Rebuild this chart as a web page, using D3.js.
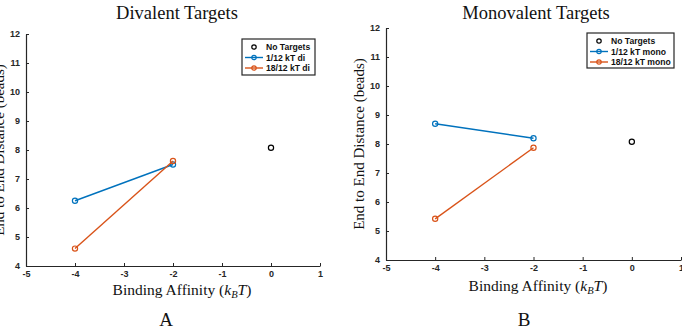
<!DOCTYPE html>
<html>
<head>
<meta charset="utf-8">
<script src="https://cdn.jsdelivr.net/npm/d3@7"></script>
<style>
  body { margin: 0; background: #fff; }
  svg { display: block; }
  .tick text { font-family: "Liberation Sans", Arial, sans-serif; font-weight: bold; font-size: 9px; fill: #262626; }
  .ttl { font-family: "Liberation Serif", "DejaVu Serif", serif; fill: #111; }
  .lg { font-family: "Liberation Sans", Arial, sans-serif; font-weight: bold; font-size: 8.6px; fill: #111; }
</style>
</head>
<body>
<svg width="682" height="336"></svg>
<script>
var svg = d3.select("svg");

// data
var xTicks = [-5, -4, -3, -2, -1, 0, 1];
var yTicks = [4, 5, 6, 7, 8, 9, 10, 11, 12];
var affinity = [-4, -2];
var noTargetX = [0];
var noTargetY = [8.08];
var diBlue = [6.25, 7.5];
var diOrange = [4.6, 7.62];
var monoBlue = [8.7, 8.2];
var monoOrange = [5.42, 7.87];

var blue = "#0072BD";
var orange = "#D95319";

var panels = [
  {x0: 26, x1: 320, y0: 34, y1: 266, title: "Divalent Targets", tx: 177, ty: 19,
   letter: "A", lx: 166, names: ["No Targets", "1/12 kT di", "18/12 kT di"],
   blueV: diBlue, orangeV: diOrange, leg: {x: 242, y: 39, w: 73, h: 36}, ylx: 4, xla: 182, xly: 295},
  {x0: 386, x1: 681, y0: 28, y1: 260, title: "Monovalent Targets", tx: 536, ty: 19,
   letter: "B", lx: 524, names: ["No Targets", "1/12 kT mono", "18/12 kT mono"],
   blueV: monoBlue, orangeV: monoOrange, leg: {x: 587, y: 33, w: 87, h: 35}, ylx: 364, xla: 538, xly: 291}
];

var drawPanel = function(p){
  var g = svg.append("g");
  var x = d3.scaleLinear().domain([-5, 1]).range([p.x0, p.x1]);
  var y = d3.scaleLinear().domain([4, 12]).range([p.y1, p.y0]);
  var fmt = function(d){return String(d)};

  var xa = g.append("g").attr("transform", "translate(0," + p.y1 + ")")
    .call(d3.axisBottom(x).tickValues(xTicks).tickFormat(fmt).tickSizeInner(-3).tickSizeOuter(0).tickPadding(5));
  var ya = g.append("g").attr("transform", "translate(" + p.x0 + ",0)")
    .call(d3.axisLeft(y).tickValues(yTicks).tickFormat(fmt).tickSizeInner(-3).tickSizeOuter(0).tickPadding(6));
  [xa, ya].forEach(function(a){
    a.select(".domain").attr("stroke", "#262626").attr("stroke-width", 1.2);
    a.selectAll(".tick line").attr("stroke", "#262626");
  });

  var line = d3.line().x(function(d){return x(d[0])}).y(function(d){return y(d[1])});
  [[p.blueV, blue], [p.orangeV, orange]].forEach(function(s){
    var pts = affinity.map(function(a, i){return [a, s[0][i]]});
    g.append("path").datum(pts).attr("d", line).attr("fill", "none")
      .attr("stroke", s[1]).attr("stroke-width", 1.4);
    g.selectAll(null).data(pts).enter().append("circle")
      .attr("cx", function(d){return x(d[0])}).attr("cy", function(d){return y(d[1])})
      .attr("r", 2.6).attr("fill", "none").attr("stroke", s[1]).attr("stroke-width", 1.2);
  });
  g.selectAll(null).data(noTargetX).enter().append("circle")
    .attr("cx", function(d){return x(d)}).attr("cy", function(d, i){return y(noTargetY[i])})
    .attr("r", 2.6).attr("fill", "none").attr("stroke", "#000").attr("stroke-width", 1.2);

  // legend
  var L = p.leg;
  var lg = g.append("g");
  lg.append("rect").attr("x", L.x).attr("y", L.y).attr("width", L.w).attr("height", L.h)
    .attr("fill", "#fff").attr("stroke", "#262626").attr("stroke-width", 1.2);
  var cols = ["#000", blue, orange];
  p.names.forEach(function(n, i){
    var yy = L.y + 8 + i * 10.5;
    if (i > 0) {
      lg.append("line").attr("x1", L.x + 3).attr("x2", L.x + 21).attr("y1", yy).attr("y2", yy)
        .attr("stroke", cols[i]).attr("stroke-width", 1.4);
    }
    lg.append("circle").attr("cx", L.x + 12).attr("cy", yy).attr("r", 2.2)
      .attr("fill", "none").attr("stroke", cols[i]).attr("stroke-width", 1.2);
    lg.append("text").attr("class", "lg").attr("x", L.x + 24).attr("y", yy + 3.2).text(n);
  });

  // texts
  g.append("text").attr("class", "ttl").attr("x", p.tx).attr("y", p.ty)
    .attr("text-anchor", "middle").attr("font-size", 18.5).text(p.title);
  var xl = g.append("text").attr("class", "ttl").attr("x", p.xla).attr("y", p.xly)
    .attr("text-anchor", "middle").attr("font-size", 15.5);
  xl.append("tspan").text("Binding Affinity (");
  xl.append("tspan").attr("font-style", "italic").text("k");
  xl.append("tspan").attr("font-style", "italic").attr("font-size", 10.5).attr("dy", 3).text("B");
  xl.append("tspan").attr("font-style", "italic").attr("dy", -3).text("T");
  xl.append("tspan").text(")");
  g.append("text").attr("class", "ttl")
    .attr("transform", "translate(" + p.ylx + "," + ((p.y0 + p.y1) / 2) + ") rotate(-90)")
    .attr("text-anchor", "middle").attr("font-size", 15).text("End to End Distance (beads)");
  g.append("text").attr("class", "ttl").attr("x", p.lx).attr("y", 326)
    .attr("text-anchor", "middle").attr("font-size", 19).text(p.letter);
};

panels.forEach(drawPanel);
</script>
</body>
</html>
